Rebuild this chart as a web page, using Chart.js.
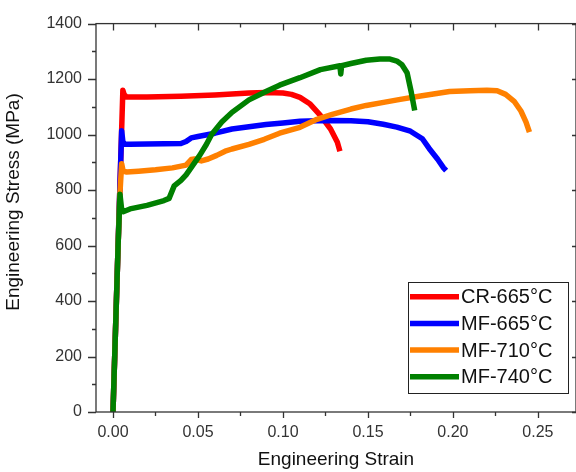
<!DOCTYPE html>
<html>
<head>
<meta charset="utf-8">
<script src="https://cdn.jsdelivr.net/npm/chart.js@4.4.0/dist/chart.umd.min.js"></script>
<style>
  html, body { margin: 0; padding: 0; background: #fff; }
  #wrap { width: 576px; height: 472px; }
</style>
</head>
<body>
<div id="wrap"><canvas id="stressChart" width="576" height="472"></canvas></div>
<script>
// Series
const seriesLabels = ['CR-665°C', 'MF-665°C', 'MF-710°C', 'MF-740°C'];
const seriesColors = ['#ff0000', '#0000ff', '#ff8000', '#008000'];

const crStrain = [0, 0.001, 0.002, 0.003, 0.004, 0.005, 0.0058, 0.0065, 0.008, 0.02, 0.04, 0.06, 0.08, 0.09, 0.1, 0.105, 0.11, 0.116, 0.122, 0.128, 0.132, 0.1335];
const crStress = [0, 200, 400, 600, 800, 1000, 1160, 1145, 1135, 1135, 1138, 1143, 1150, 1152, 1150, 1145, 1134, 1110, 1069, 1020, 972, 940];

const mf665Strain = [0, 0.001, 0.002, 0.003, 0.004, 0.0051, 0.0058, 0.007, 0.01, 0.02, 0.03, 0.04, 0.043, 0.046, 0.05, 0.06, 0.07, 0.08, 0.09, 0.10, 0.11, 0.12, 0.13, 0.14, 0.15, 0.159, 0.167, 0.175, 0.182, 0.186, 0.191, 0.1945, 0.196];
const mf665Stress = [0, 200, 400, 600, 800, 1014, 975, 965, 965, 966, 967, 968, 975, 988, 993, 1005, 1020, 1028, 1036, 1042, 1048, 1050, 1051, 1050, 1046, 1037, 1027, 1012, 985, 950, 911, 880, 870];

const mf710Strain = [0, 0.001, 0.002, 0.003, 0.004, 0.0051, 0.006, 0.008, 0.015, 0.025, 0.035, 0.043, 0.046, 0.048, 0.052, 0.056, 0.061, 0.066, 0.07, 0.08, 0.089, 0.098, 0.11, 0.12, 0.129, 0.14, 0.149, 0.16, 0.169, 0.18, 0.198, 0.21, 0.22, 0.226, 0.231, 0.236, 0.24, 0.243, 0.245];
const mf710Stress = [0, 200, 400, 600, 780, 895, 868, 865, 868, 873, 880, 890, 910, 912, 905, 912, 925, 940, 948, 965, 983, 1005, 1026, 1055, 1073, 1092, 1105, 1117, 1127, 1138, 1155, 1158, 1160, 1158, 1145, 1120, 1085, 1045, 1009];

const mf740Strain = [0, 0.001, 0.002, 0.003, 0.0041, 0.005, 0.006, 0.01, 0.02, 0.03, 0.033, 0.036, 0.04, 0.043, 0.047, 0.051, 0.055, 0.058, 0.064, 0.07, 0.08, 0.09, 0.098, 0.11, 0.122, 0.1335, 0.134, 0.1345, 0.14, 0.149, 0.157, 0.163, 0.167, 0.17, 0.173, 0.1755, 0.1775];
const mf740Stress = [0, 200, 400, 600, 785, 735, 722, 732, 745, 762, 770, 815, 835, 855, 890, 925, 965, 1000, 1045, 1080, 1125, 1155, 1178, 1205, 1234, 1248, 1218, 1248, 1256, 1268, 1272, 1272, 1265, 1252, 1223, 1152, 1087];

const xTickValues = [0, 0.05, 0.10, 0.15, 0.20, 0.25];
const yTickValues = [0, 200, 400, 600, 800, 1000, 1200, 1400];

const FONT = '"Liberation Sans", Arial, sans-serif';
const AXIS_COLOR = '#333';

const strains = [crStrain, mf665Strain, mf710Strain, mf740Strain];
const stresses = [crStress, mf665Stress, mf710Stress, mf740Stress];
// green drawn on top, red at the bottom
const drawOrder = [4, 3, 2, 1];

function toPoints(xs, ys) {
    return xs.map((x, i) => ({ x: x, y: ys[i] }));
}

const datasets = seriesLabels.map((label, i) => ({
    label: label,
    data: toPoints(strains[i], stresses[i]),
    borderColor: seriesColors[i],
    backgroundColor: seriesColors[i],
    borderWidth: 5.5,
    pointRadius: 0,
    showLine: true,
    fill: false,
    borderJoinStyle: 'round',
    order: drawOrder[i]
}));

// frame, tick marks, y title and legend
const decorPlugin = {
    id: 'decor',
    afterDraw(chart) {
        const { ctx, chartArea: a, scales: { x, y } } = chart;
        ctx.save();
        ctx.strokeStyle = AXIS_COLOR;
        ctx.lineWidth = 1.3;
        ctx.strokeRect(a.left, a.top, a.right - a.left, a.bottom - a.top);

        ctx.beginPath();
        for (let i = 0; i <= 10; i++) {
            const px = Math.round(x.getPixelForValue(i * 0.025)) + 0.5;
            const major = i % 2 === 0;
            ctx.moveTo(px, a.bottom);
            ctx.lineTo(px, a.bottom + (major ? 6 : 4));
            ctx.moveTo(px, a.top);
            ctx.lineTo(px, a.top + (major ? 7 : 4));
        }
        for (let i = 0; i <= 14; i++) {
            const py = Math.round(y.getPixelForValue(i * 100)) + 0.5;
            const major = i % 2 === 0;
            ctx.moveTo(a.left, py);
            ctx.lineTo(a.left - (major ? 8 : 4), py);
            if (major) {
                ctx.moveTo(a.right, py);
                ctx.lineTo(a.right - 4, py);
            }
        }
        ctx.stroke();

        // y axis title
        ctx.save();
        ctx.translate(18.5, 202);
        ctx.rotate(-Math.PI / 2);
        ctx.fillStyle = '#111';
        ctx.font = '19px ' + FONT;
        ctx.textAlign = 'center';
        ctx.textBaseline = 'alphabetic';
        ctx.fillText('Engineering Stress (MPa)', 0, 0);
        ctx.restore();

        // legend box
        const bx = 408.5, by = 282.5, bw = 160, bh = 111;
        ctx.fillStyle = '#fff';
        ctx.fillRect(bx, by, bw, bh);
        ctx.lineWidth = 1;
        ctx.strokeStyle = '#222';
        ctx.strokeRect(bx, by, bw, bh);
        ctx.font = '20px ' + FONT;
        ctx.textAlign = 'left';
        ctx.textBaseline = 'middle';
        chart.data.datasets.forEach((ds, i) => {
            const ry = 296.7 + i * 26.7;
            ctx.strokeStyle = ds.borderColor;
            ctx.lineWidth = 5.5;
            ctx.beginPath();
            ctx.moveTo(410, ry);
            ctx.lineTo(459, ry);
            ctx.stroke();
            ctx.fillStyle = '#111';
            ctx.fillText(ds.label, 461, ry + 1);
        });
        ctx.restore();
    }
};

new Chart(document.getElementById('stressChart'), {
    type: 'scatter',
    data: { datasets: datasets },
    options: {
        responsive: false,
        animation: false,
        layout: { padding: { top: 21, right: 0, bottom: 0, left: 0 } },
        plugins: {
            legend: { display: false },
            tooltip: { enabled: false }
        },
        scales: {
            x: {
                type: 'linear',
                min: -0.01,
                max: 0.2724,
                grid: { display: false, drawTicks: false },
                border: { display: false },
                afterBuildTicks: s => { s.ticks = xTickValues.map(v => ({ value: v })); },
                afterFit: s => { s.height = 60; },
                ticks: {
                    font: { family: FONT, size: 16 },
                    color: '#333',
                    padding: 11,
                    maxRotation: 0,
                    callback: v => Number(v).toFixed(2)
                },
                title: {
                    display: true,
                    text: 'Engineering Strain',
                    font: { family: FONT, size: 19, lineHeight: 1 },
                    color: '#111',
                    padding: { top: 0, bottom: 2.5 }
                }
            },
            y: {
                type: 'linear',
                min: 0,
                max: 1400,
                grid: { display: false, drawTicks: false },
                border: { display: false },
                afterBuildTicks: s => { s.ticks = yTickValues.map(v => ({ value: v })); },
                afterFit: s => { s.width = 96; },
                ticks: {
                    font: { family: FONT, size: 16 },
                    color: '#333',
                    padding: 14,
                    callback: v => String(v)
                }
            }
        }
    },
    plugins: [decorPlugin]
});
</script>
</body>
</html>
